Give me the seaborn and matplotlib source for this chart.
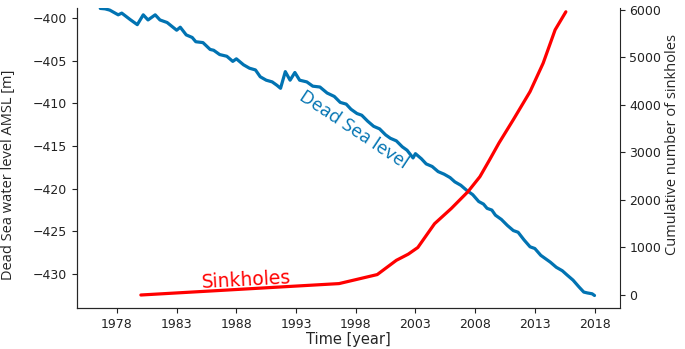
import matplotlib
matplotlib.use("Agg")
import matplotlib.pyplot as plt
import seaborn as sns

# %%
# Dead Sea level (left axis)
sea_year = [1976.6, 1977.0, 1977.4, 1978.1, 1978.4, 1979.1, 1979.7, 1980.2, 1980.6,
            1981.2, 1981.6, 1982.2, 1982.6, 1983.0, 1983.3, 1983.8, 1984.3, 1984.6,
            1985.2, 1985.8, 1986.1, 1986.6, 1987.2, 1987.7, 1988.0, 1988.6, 1989.1,
            1989.6, 1990.0, 1990.5, 1991.0, 1991.4, 1991.7, 1992.1, 1992.5, 1992.9,
            1993.3, 1993.9, 1994.4, 1995.0, 1995.6, 1996.2, 1996.7, 1997.2, 1997.6,
            1998.1, 1998.5, 1999.0, 1999.5, 2000.0, 2000.5, 2000.9, 2001.4, 2001.9,
            2002.3, 2002.8, 2003.0, 2003.5, 2003.9, 2004.4, 2004.9, 2005.4, 2005.9,
            2006.3, 2006.8, 2007.3, 2007.8, 2008.3, 2008.7, 2009.0, 2009.4, 2009.7,
            2010.2, 2010.7, 2011.2, 2011.6, 2012.1, 2012.6, 2013.0, 2013.5, 2014.0,
            2014.3, 2014.8, 2015.3, 2015.7, 2016.2, 2016.7, 2017.1, 2017.4, 2017.8,
            2018.0]
sea_level = [-398.9, -398.95, -399.1, -399.65, -399.45, -400.2, -400.8, -399.65, -400.25,
             -399.65, -400.25, -400.55, -401.0, -401.45, -401.1, -402.0, -402.3, -402.8,
             -402.9, -403.7, -403.8, -404.3, -404.5, -405.1, -404.8, -405.5, -405.9,
             -406.1, -406.9, -407.3, -407.5, -407.9, -408.25, -406.3, -407.3, -406.4,
             -407.3, -407.5, -408.0, -408.1, -408.8, -409.2, -409.9, -410.1, -410.7,
             -411.2, -411.4, -412.1, -412.7, -413.0, -413.7, -414.1, -414.4, -415.1,
             -415.5, -416.4, -415.9, -416.5, -417.1, -417.4, -418.0, -418.3, -418.7,
             -419.2, -419.6, -420.2, -420.7, -421.5, -421.8, -422.3, -422.5, -423.1,
             -423.6, -424.3, -424.9, -425.1, -426.0, -426.8, -427.0, -427.8, -428.3,
             -428.6, -429.2, -429.6, -430.1, -430.7, -431.5, -432.1, -432.2, -432.3,
             -432.5]

# Cumulative number of sinkholes (right axis)
sink_year = [1980.0, 1996.6, 1999.8, 2001.4, 2002.4, 2003.2, 2004.6, 2006.0, 2007.4,
             2008.4, 2009.2, 2010.0, 2011.2, 2012.6, 2013.7, 2014.7, 2015.6]
sink_count = [0, 240, 430, 730, 860, 1000, 1500, 1820, 2175,
              2490, 2840, 3200, 3690, 4280, 4880, 5580, 5960]

year_ticks = [1978, 1983, 1988, 1993, 1998, 2003, 2008, 2013, 2018]
level_ticks = [-430, -425, -420, -415, -410, -405, -400]
count_ticks = [0, 1000, 2000, 3000, 4000, 5000, 6000]

# %%
sns.set_style("ticks")
plt.rcParams['font.family'] = ['DejaVu Sans']

blue = "#0173b2"
red = "#ff0000"

fig = plt.figure(figsize=(6.85, 3.49), dpi=100)
ax = fig.add_axes([0.1124, 0.1166, 0.7921, 0.8605])
ax2 = ax.twinx()

sns.lineplot(x=sea_year, y=sea_level, ax=ax, color=blue, linewidth=2.3)
sns.lineplot(x=sink_year, y=sink_count, ax=ax2, color=red, linewidth=2.3)

ax.set_xlim(1974.65, 2020.1)
ax.set_ylim(-434.0, -398.85)
ax2.set_ylim(-280, 6040)
ax.set_xticks(year_ticks)
ax.set_yticks(level_ticks)
ax2.set_yticks(count_ticks)
ax.tick_params(labelsize=9, colors='#222222')
ax2.tick_params(labelsize=9, colors='#222222')

for a in (ax, ax2):
    a.spines['top'].set_visible(False)
ax.spines['right'].set_visible(False)

ax.set_xlabel("Time [year]", fontsize=10.5, labelpad=1)
ax.set_ylabel("Dead Sea water level AMSL [m]", fontsize=10.5, family=['Open Sans', 'DejaVu Sans'])
ax.yaxis.set_label_coords(-0.112, 0.445)
ax2.set_ylabel("Cumulative number of sinkholes", fontsize=10.5, family=['Open Sans', 'DejaVu Sans'])
ax2.yaxis.set_label_coords(1.084, 0.544)

# in-line labels
ax.text(1997.8, -413.1, "Dead Sea level", color=blue, fontsize=13.5, rotation=-33.6,
        ha='center', va='center', rotation_mode='anchor', family=['Open Sans', 'DejaVu Sans'])
ax2.text(1988.8, 322, "Sinkholes", color=red, fontsize=13.5, rotation=3,
         ha='center', va='center', rotation_mode='anchor')

fig.savefig("out.png", dpi=100)
